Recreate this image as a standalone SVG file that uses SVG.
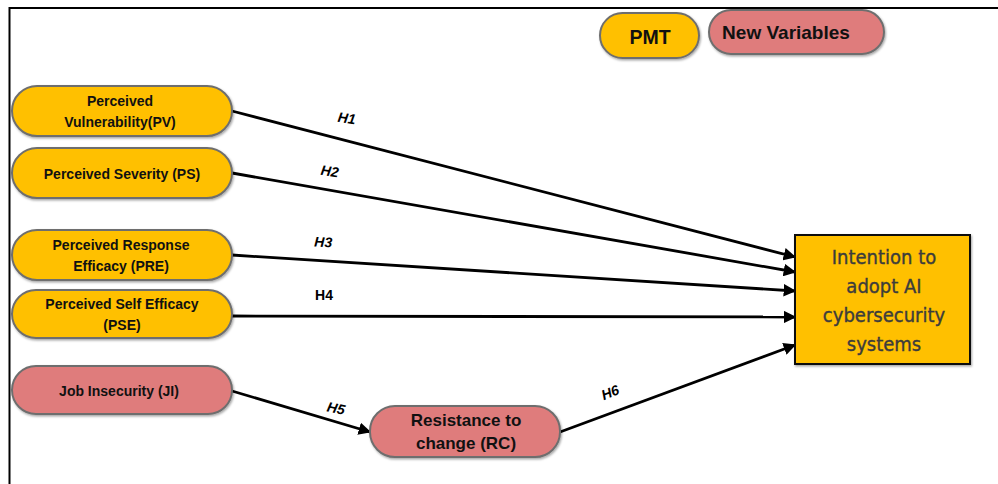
<svg xmlns="http://www.w3.org/2000/svg" width="998" height="484" viewBox="0 0 998 484">
<style>
.y{fill:#FFC000;stroke:#6e6e6e;stroke-width:2}
.p{fill:#DF7C7C;stroke:#6e6e6e;stroke-width:2}
.t{font-family:"Liberation Sans",Arial,sans-serif;font-weight:bold;fill:#111;text-anchor:middle}
.s{font-size:14px}
.c{stroke:#000;stroke-width:2.8;fill:none;marker-end:url(#ah)}
.h{font-family:"Liberation Sans",Arial,sans-serif;font-weight:bold;font-style:italic;font-size:14px;fill:#000;text-anchor:middle}
.big{font-family:"DejaVu Sans Condensed","Liberation Sans Narrow","Liberation Sans",sans-serif;font-size:20px;fill:#3c3c3c;stroke:#3c3c3c;stroke-width:0.35;text-anchor:middle}
</style>
<defs>
<marker id="ah" viewBox="0 0 10 10" refX="9" refY="5" markerWidth="4.5" markerHeight="4.5" orient="auto" markerUnits="strokeWidth">
<path d="M0,0 L10,5 L0,10 z" fill="#000"/>
</marker>
<filter id="sh" x="-10%" y="-20%" width="120%" height="140%">
<feDropShadow dx="1" dy="1.5" stdDeviation="1.2" flood-color="#000" flood-opacity="0.35"/>
</filter>
</defs>
<rect width="998" height="484" fill="#fff"/>
<path d="M9.5,484 V8 H998" fill="none" stroke="#000" stroke-width="2"/>

<g id="connectors">
<line class="c" x1="232" y1="111" x2="795" y2="257"/>
<line class="c" x1="232" y1="173" x2="795" y2="272"/>
<line class="c" x1="232" y1="255" x2="795" y2="291"/>
<line class="c" x1="232" y1="316" x2="795" y2="317"/>
<line class="c" x1="232" y1="391" x2="370" y2="432"/>
<line class="c" x1="560" y1="432" x2="795" y2="345"/>
<text class="h" x="346" y="123" transform="rotate(8 346 123)">H1</text>
<text class="h" x="329" y="176" transform="rotate(8 329 176)">H2</text>
<text class="h" x="323" y="247" transform="rotate(3 323 247)">H3</text>
<text class="h" x="324" y="300" style="font-style:normal">H4</text>
<text class="h" x="335" y="413" transform="rotate(12 335 413)">H5</text>
<text class="h" x="612" y="397" transform="rotate(-22 612 397)">H6</text>
</g>

<g id="legend-pmt">
<rect class="y" x="600" y="13" width="99" height="45" rx="22.5" filter="url(#sh)"/>
<text class="t" x="650" y="44" font-size="19.5">PMT</text>
</g>
<g id="legend-new">
<rect class="p" x="709" y="10" width="175" height="44" rx="22" filter="url(#sh)"/>
<text class="t" x="786" y="39" font-size="19">New Variables</text>
</g>

<g id="pv">
<rect class="y" x="12" y="86" width="220" height="50" rx="25" filter="url(#sh)"/>
<text class="t s" x="120" y="106">Perceived</text>
<text class="t s" x="120" y="127">Vulnerability(PV)</text>
</g>
<g id="ps">
<rect class="y" x="12" y="148" width="220" height="50" rx="25" filter="url(#sh)"/>
<text class="t s" x="122" y="179">Perceived Severity (PS)</text>
</g>
<g id="pre">
<rect class="y" x="12" y="230" width="220" height="50" rx="25" filter="url(#sh)"/>
<text class="t s" x="121" y="250">Perceived Response</text>
<text class="t s" x="121" y="271">Efficacy (PRE)</text>
</g>
<g id="pse">
<rect class="y" x="12" y="290" width="220" height="48" rx="24" filter="url(#sh)"/>
<text class="t s" x="122" y="309">Perceived Self Efficacy</text>
<text class="t s" x="122" y="330">(PSE)</text>
</g>
<g id="ji">
<rect class="p" x="12" y="366" width="220" height="48" rx="24" filter="url(#sh)"/>
<text class="t s" x="119" y="396">Job Insecurity (JI)</text>
</g>
<g id="rc">
<rect class="p" x="370" y="406" width="190" height="51" rx="25" filter="url(#sh)"/>
<text class="t" x="466" y="426" font-size="17">Resistance to</text>
<text class="t" x="466" y="449" font-size="17">change (RC)</text>
</g>
<g id="target">
<rect x="795" y="235" width="175" height="129" fill="#FFC000" stroke="#111" stroke-width="2" filter="url(#sh)"/>
<text class="big" x="884" y="264">Intention to</text>
<text class="big" x="884" y="293">adopt AI</text>
<text class="big" x="884" y="322">cybersecurity</text>
<text class="big" x="884" y="351">systems</text>
</g>
</svg>
